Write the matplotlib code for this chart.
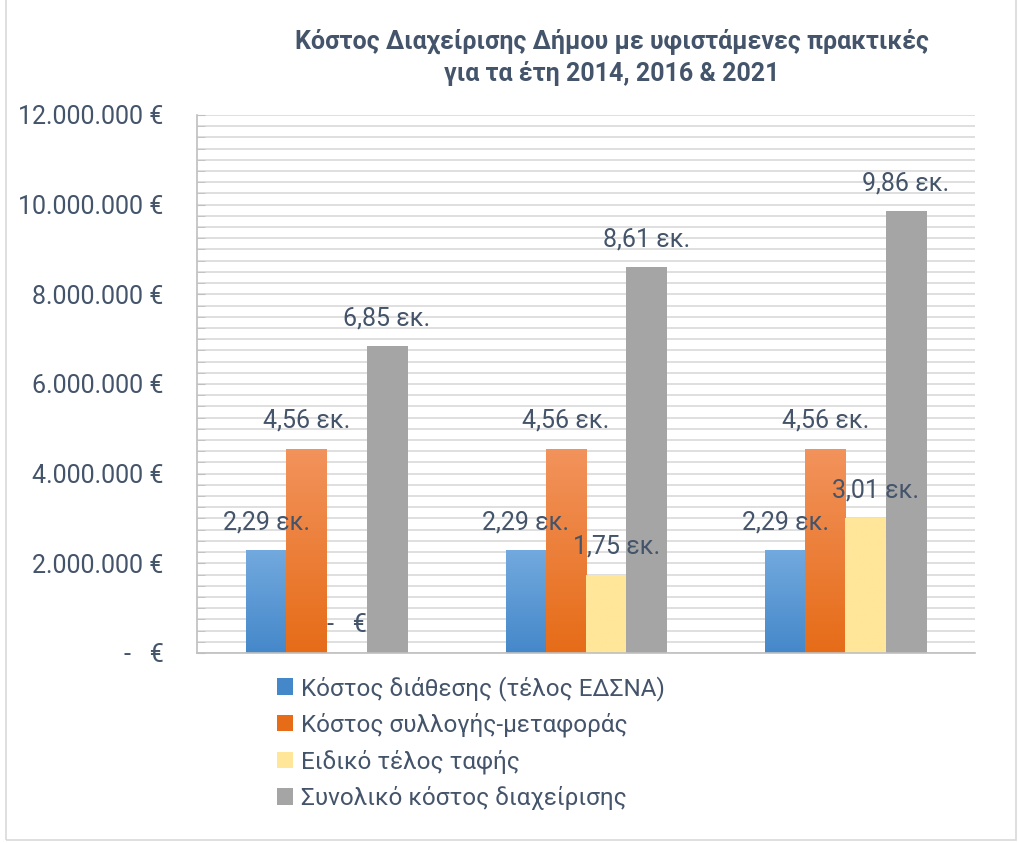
"""Bar chart of municipal waste management cost for 2014, 2016 and 2021"""

import numpy as np
import matplotlib

matplotlib.use("Agg")
import matplotlib.pyplot as plt
from matplotlib.colors import LinearSegmentedColormap
from matplotlib.patches import Rectangle
from matplotlib.ticker import FuncFormatter, MultipleLocator

plt.rcParams["font.family"] = ["Roboto", "DejaVu Sans"]

years = ["2014", "2016", "2021"]
series_names = [
    "Κόστος διάθεσης (τέλος ΕΔΣΝΑ)",
    "Κόστος συλλογής-μεταφοράς",
    "Ειδικό τέλος ταφής",
    "Συνολικό κόστος διαχείρισης",
]
disposal = [2290000, 2290000, 2290000]
collection = [4560000, 4560000, 4560000]
landfill_tax = [0, 1750000, 3010000]
total = [6850000, 8610000, 9860000]

title = "Κόστος Διαχείρισης Δήμου με υφιστάμενες πρακτικές\nγια τα έτη 2014, 2016 & 2021"

TEXT = "#44546A"
GRID = "#D9D9D9"
# (top colour, bottom colour) for each series
colours = [
    ("#72A9DE", "#4588CA"),
    ("#F2935C", "#E66C18"),
    ("#FFE699", "#FFE699"),
    ("#A5A5A5", "#A5A5A5"),
]
label_shift = [0, 0, 10, 0]  # pixels, yellow labels sit a little to the right


def euro(v, _pos=None) -> str:
    if v == 0:
        return "-   €"
    return f"{int(round(v)):,}".replace(",", ".") + " €"


def short_label(v) -> str:
    if v == 0:
        return "-   €"
    return f"{v / 1e6:.2f}".replace(".", ",") + " εκ."


fig = plt.figure(figsize=(10.2, 8.43), dpi=100)
fig.patches.append(
    Rectangle((0.006, 0.004), 0.99, 1.1, transform=fig.transFigure,
              fill=False, edgecolor=GRID, linewidth=1.2)
)
ax = fig.add_axes([0.193, 0.2254, 0.763, 0.6382])

x = np.arange(len(years))
width = 0.155
all_series = [disposal, collection, landfill_tax, total]

for i, (values, name) in enumerate(zip(all_series, series_names)):
    pos = x + (i - 1.5) * width
    top_c, bot_c = colours[i]
    bars = ax.bar(pos, values, width, color=bot_c, label=name, zorder=2,
                  linewidth=0)
    cmap = LinearSegmentedColormap.from_list(f"g{i}", [bot_c, top_c])
    for rect in bars:
        h = rect.get_height()
        if h <= 0:
            continue
        x0 = rect.get_x()
        grad = np.linspace(1, 0, 64).reshape(-1, 1)
        im = ax.imshow(grad, extent=[x0, x0 + rect.get_width(), 0, h],
                       aspect="auto", cmap=cmap, zorder=2.5, origin="upper")
        im.set_clip_path(rect)
    for xp, v in zip(pos, values):
        ax.annotate(short_label(v), (xp, v), xytext=(label_shift[i] * 0.72 if v else 0, 20),
                    textcoords="offset points", ha="center", va="center",
                    fontsize=18, color=TEXT, zorder=4)

ax.set_xlim(-0.5, 2.5)
ax.set_ylim(0, 12000000)
ax.set_xticks([])
ax.yaxis.set_major_locator(MultipleLocator(2000000))
ax.yaxis.set_minor_locator(MultipleLocator(250000))
ax.yaxis.set_major_formatter(FuncFormatter(euro))
ax.tick_params(axis="y", which="major", direction="in", length=6, color="#BFBFBF",
               labelsize=18, labelcolor=TEXT, pad=24)
ax.tick_params(axis="y", which="minor", direction="in", length=6, color="#BFBFBF")
ax.grid(axis="y", which="both", color=GRID, linewidth=1.2, zorder=0)
ax.set_axisbelow(True)
for side in ["top", "right"]:
    ax.spines[side].set_visible(False)
ax.spines["left"].set_color("#BFBFBF")
ax.spines["bottom"].set_color("#BFBFBF")
ax.spines["left"].set_linewidth(1.2)
ax.spines["bottom"].set_linewidth(1.2)

fig.text(0.6, 0.932, title, ha="center", va="center", fontsize=18,
         fontweight="bold", color=TEXT, linespacing=1.35)

handles, labels = ax.get_legend_handles_labels()
leg = fig.legend(handles, labels, loc="upper left", bbox_to_anchor=(0.262, 0.21),
                 frameon=False, fontsize=17.5, labelcolor=TEXT, handlelength=0.65,
                 handleheight=0.65, handletextpad=0.35, labelspacing=0.5,
                 borderaxespad=0)

fig.savefig("out.png", dpi=100)
